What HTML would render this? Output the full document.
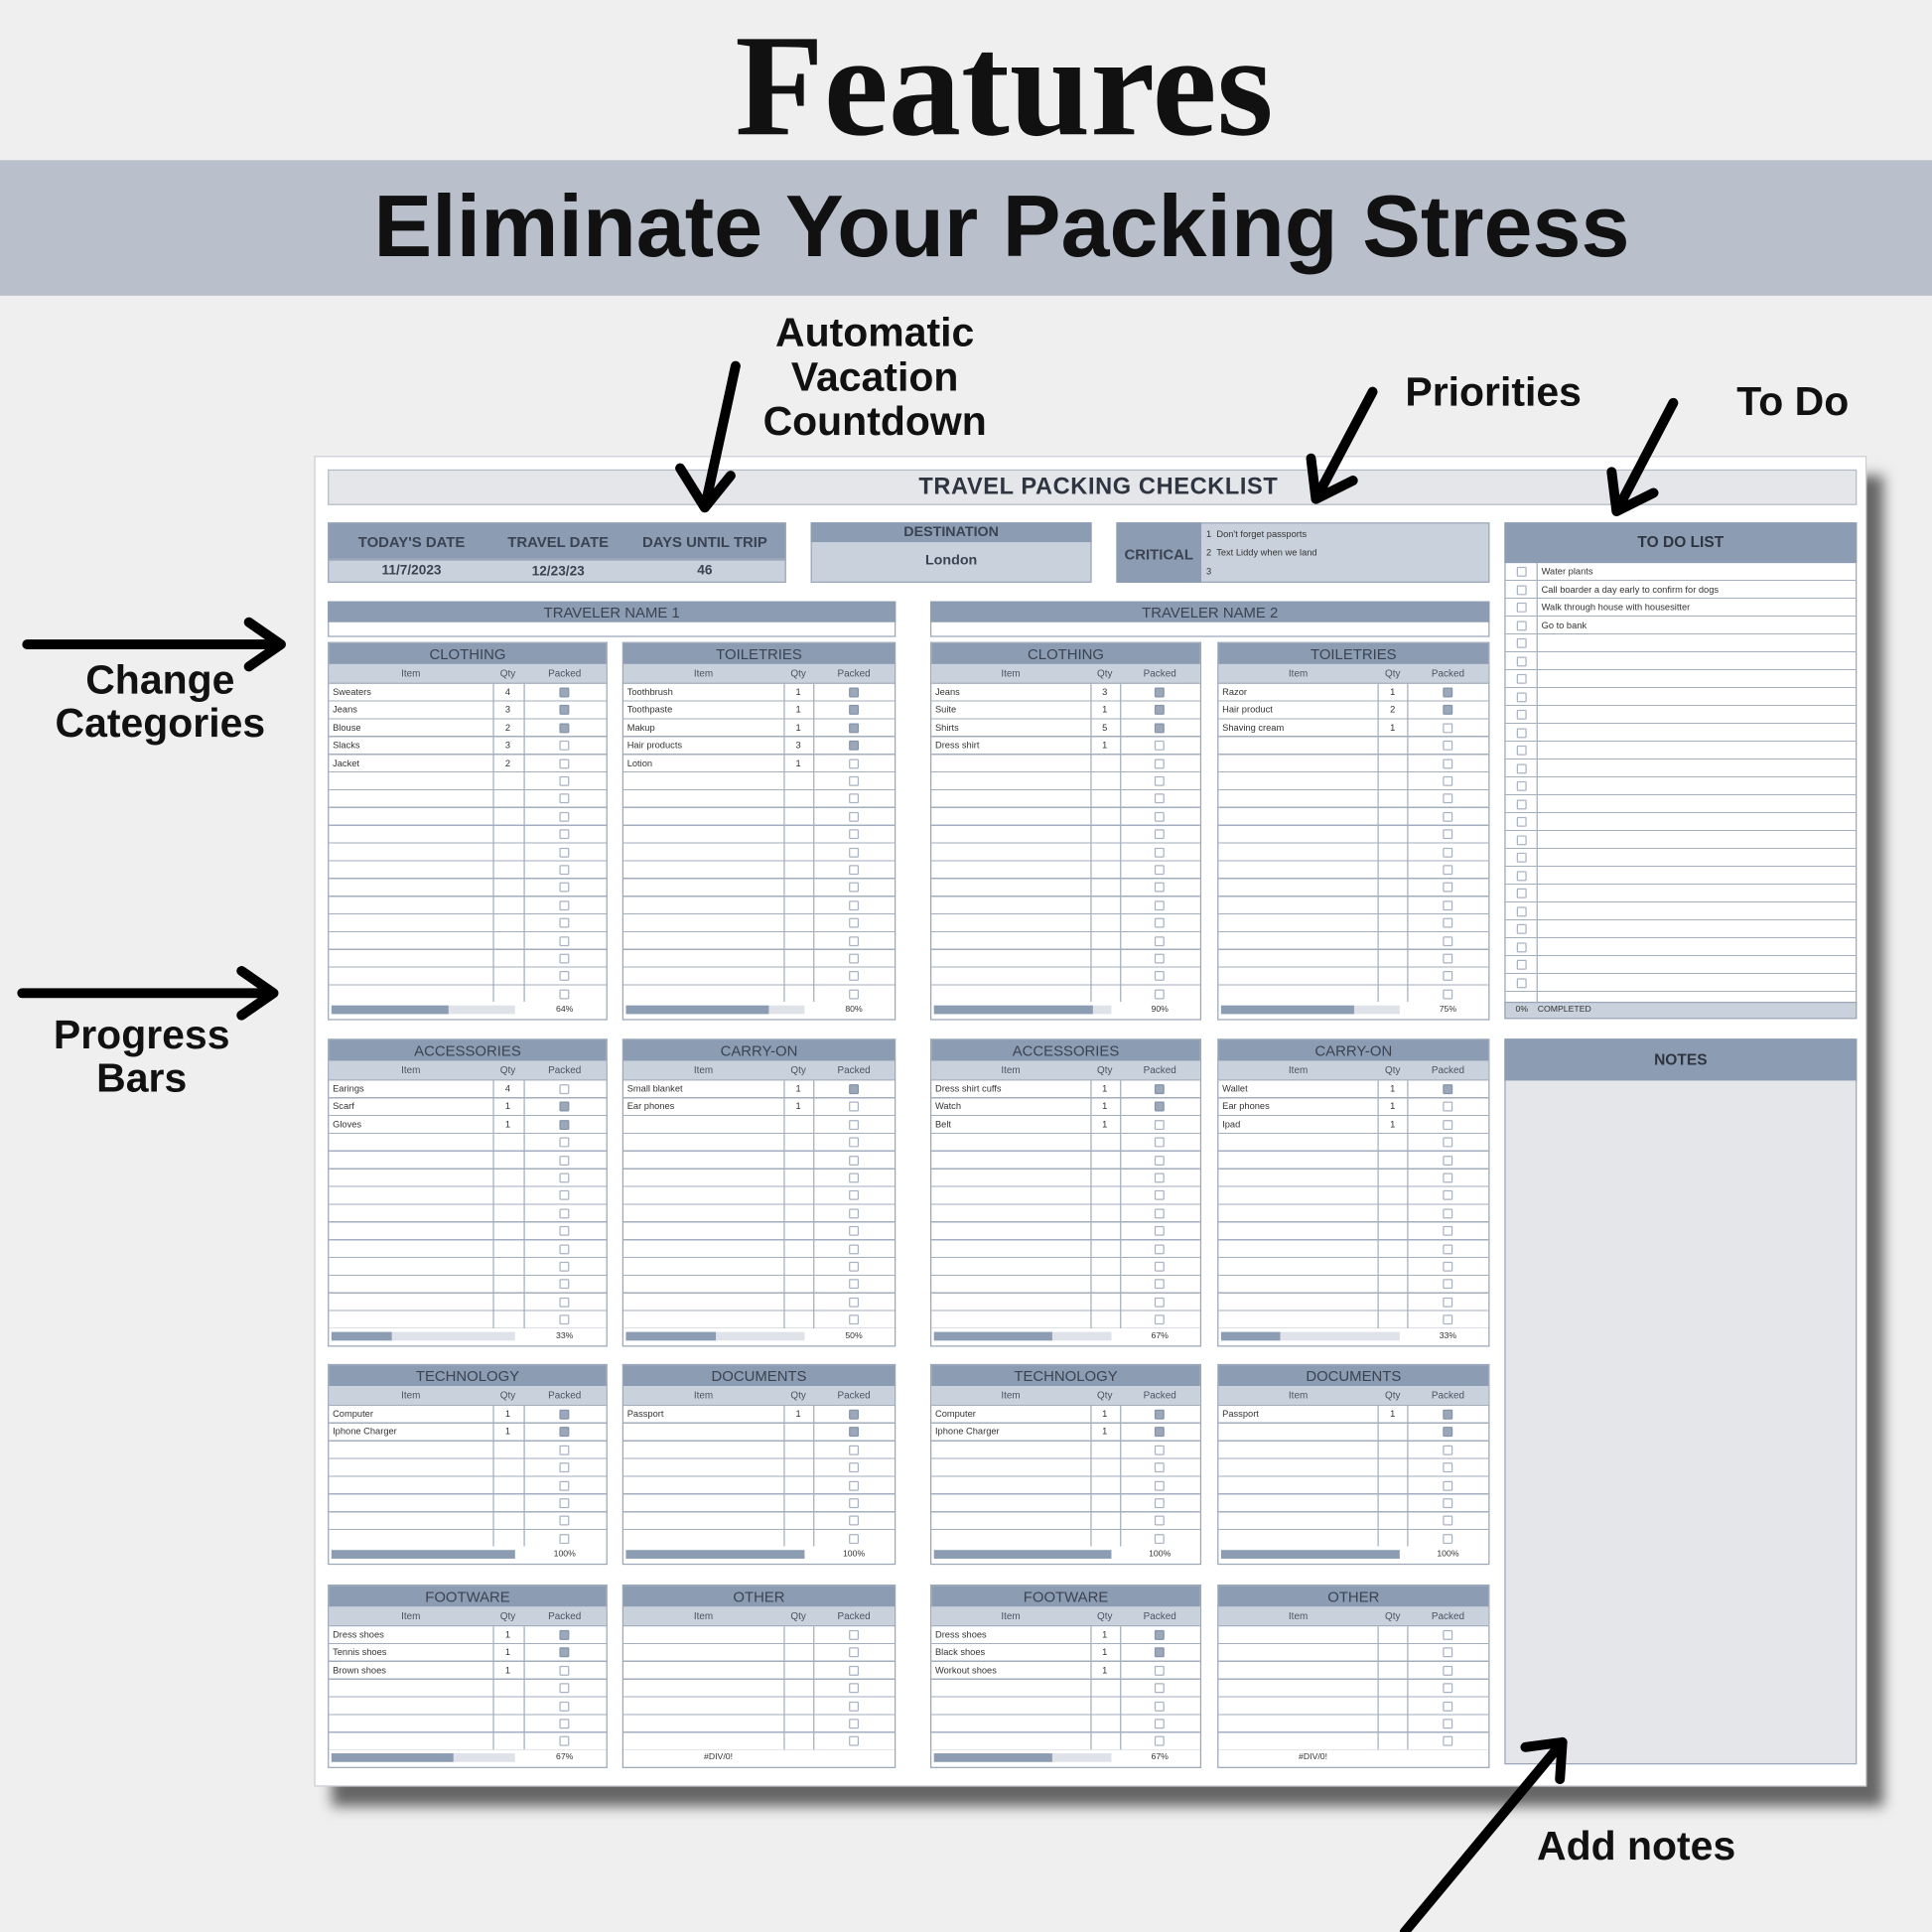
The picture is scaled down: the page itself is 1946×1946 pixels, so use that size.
<!DOCTYPE html>
<html><head><meta charset="utf-8">
<style>
*{margin:0;padding:0;box-sizing:border-box}
html,body{width:1946px;height:1946px;overflow:hidden;background:#efefef}
#w{position:absolute;left:0;top:0;width:1568px;height:1568px;transform:scale(1.24107);transform-origin:0 0;font-family:"Liberation Sans",sans-serif}
.a{position:absolute}
.ann{position:absolute;font-weight:bold;font-size:33px;color:#111;text-align:center;line-height:36px}
.sheet{position:absolute;left:255px;top:370px;width:1260px;height:1080px;background:#fff;border:1px solid #c9cdd3;box-shadow:14px 16px 10px #666}
.hdc{background:#8c9cb3}
.lt{background:#c9d2dc}
.blk{position:absolute;border:1px solid #9aa6b8;background:#fff}
.blk .hd{height:17px;background:#8c9cb3;color:#3b4352;font-size:12px;text-align:center;line-height:18px}
.blk .sub{height:15px;background:#c9d2dc;position:relative;font-size:8px;color:#4a5262;line-height:15px}
.sub span{position:absolute;text-align:center}
.c1{left:0;width:59%}.c2{left:59%;width:11%}.c3{left:70%;width:30%}
.bd{position:relative;background:repeating-linear-gradient(to bottom,transparent 0 13.4px,#a3aebe 13.4px 14.4px);border-top:1px solid #a3aebe}
.bd:before,.bd:after{content:"";position:absolute;top:0;bottom:0;width:1px;background:#a3aebe}
.bd:before{left:59%}.bd:after{left:70%}
.bd p{position:relative;height:14.4px;font-size:7.5px;line-height:13px;padding-left:3px;color:#333}
.bd p b{position:absolute;left:59%;width:11%;text-align:center;font-weight:normal}
.cb{position:absolute;width:8px;height:8px;border:1px solid #aab3c2;border-radius:1px;background:#fff}
.cb.k{background:#9ba8ba;border-color:#8594aa}
.pr{position:relative;height:14px;font-size:7px;color:#333}
.pr .bg{position:absolute;left:2px;top:3px;width:66%;height:7px;background:#dfe3e9}
.pr .fg{position:absolute;left:0;top:0;height:7px;background:#8c9cb3}
.pr .pc{position:absolute;left:70%;width:30%;text-align:center;line-height:14px}
.pr .dv{position:absolute;left:0;width:70%;text-align:center;line-height:14px}
.tl{position:absolute;font-size:12px;color:#3b4352;text-align:center;font-weight:bold}
</style></head><body>
<div id="w">
<div class="a" style="left:0;top:10px;width:1630px;text-align:center;font-family:'Liberation Serif',serif;font-weight:bold;font-size:118px;line-height:120px;color:#111">Features</div>
<div class="a" style="left:0;top:130px;width:1568px;height:110px;background:#b9c0cb"></div>
<div class="a" style="left:0;top:142px;width:1626px;text-align:center;font-weight:bold;font-size:71px;line-height:86px;color:#111">Eliminate Your Packing Stress</div>

<div class="ann" style="left:590px;top:252px;width:240px">Automatic<br>Vacation<br>Countdown</div>
<div class="ann" style="left:1122px;top:300px;width:180px">Priorities</div>
<div class="ann" style="left:1395px;top:308px;width:120px">To Do</div>
<div class="ann" style="left:20px;top:534px;width:220px;line-height:35px">Change<br>Categories</div>
<div class="ann" style="left:20px;top:822px;width:190px;line-height:35px">Progress<br>Bars</div>
<div class="ann" style="left:1228px;top:1480px;width:200px">Add notes</div>

<div class="sheet"></div>
<div class="a" style="left:266px;top:381px;width:1241px;height:29px;background:#e4e6ea;border:1px solid #b5bcc7;text-align:center;font-size:19px;font-weight:bold;line-height:28px;color:#2f3540;letter-spacing:.5px;padding-left:10px">TRAVEL PACKING CHECKLIST</div>

<div class="a hdc" style="left:266px;top:424px;width:372px;height:30px;border:1px solid #9aa6b8"></div>
<div class="a lt" style="left:266px;top:454px;width:372px;height:19px;border:1px solid #9aa6b8"></div>
<div class="tl" style="left:274px;top:433px;width:120px">TODAY'S DATE</div>
<div class="tl" style="left:394px;top:433px;width:118px">TRAVEL DATE</div>
<div class="tl" style="left:512px;top:433px;width:120px">DAYS UNTIL TRIP</div>
<div class="tl" style="left:274px;top:457px;width:120px;font-size:11px">11/7/2023</div>
<div class="tl" style="left:394px;top:458px;width:118px;font-size:11px">12/23/23</div>
<div class="tl" style="left:512px;top:457px;width:120px;font-size:11px">46</div>
<div class="a lt" style="left:658px;top:424px;width:228px;height:49px;border:1px solid #9aa6b8"></div>
<div class="a hdc" style="left:658px;top:424px;width:228px;height:16px"></div>
<div class="tl" style="left:658px;top:426px;width:228px;font-size:11.5px">DESTINATION</div>
<div class="tl" style="left:658px;top:449px;width:228px;font-size:11.5px">London</div>
<div class="a lt" style="left:906px;top:424px;width:303px;height:49px;border:1px solid #9aa6b8"></div>
<div class="a hdc" style="left:906px;top:424px;width:69px;height:49px"></div>
<div class="tl" style="left:906px;top:443px;width:69px;font-size:12px">CRITICAL</div>
<div class="a" style="left:979px;top:426px;font-size:7.5px;line-height:15px;color:#333">1&nbsp; Don't forget passports<br>2&nbsp; Text Liddy when we land<br>3</div>

<div class="a" style="left:266px;top:488px;width:461px;height:29px;border:1px solid #9aa6b8;background:#fff"></div>
<div class="a hdc" style="left:266px;top:488px;width:461px;height:17px;text-align:center;font-size:12px;line-height:18px;color:#3b4352">TRAVELER NAME 1</div>
<div class="a" style="left:755px;top:488px;width:454px;height:29px;border:1px solid #9aa6b8;background:#fff"></div>
<div class="a hdc" style="left:755px;top:488px;width:454px;height:17px;text-align:center;font-size:12px;line-height:18px;color:#3b4352">TRAVELER NAME 2</div>

<div class="blk" style="left:266px;top:521px;width:227px" data-rows="18" data-k="0,1,2"><div class="hd">CLOTHING</div><div class="sub"><span class="c1">Item</span><span class="c2">Qty</span><span class="c3">Packed</span></div><div class="bd"><p>Sweaters<b>4</b></p><p>Jeans<b>3</b></p><p>Blouse<b>2</b></p><p>Slacks<b>3</b></p><p>Jacket<b>2</b></p></div><div class="pr"><div class="bg"><div class="fg" style="width:64%"></div></div><div class="pc">64%</div></div></div>
<div class="blk" style="left:505px;top:521px;width:222px" data-rows="18" data-k="0,1,2,3"><div class="hd">TOILETRIES</div><div class="sub"><span class="c1">Item</span><span class="c2">Qty</span><span class="c3">Packed</span></div><div class="bd"><p>Toothbrush<b>1</b></p><p>Toothpaste<b>1</b></p><p>Makup<b>1</b></p><p>Hair products<b>3</b></p><p>Lotion<b>1</b></p></div><div class="pr"><div class="bg"><div class="fg" style="width:80%"></div></div><div class="pc">80%</div></div></div>
<div class="blk" style="left:755px;top:521px;width:220px" data-rows="18" data-k="0,1,2"><div class="hd">CLOTHING</div><div class="sub"><span class="c1">Item</span><span class="c2">Qty</span><span class="c3">Packed</span></div><div class="bd"><p>Jeans<b>3</b></p><p>Suite<b>1</b></p><p>Shirts<b>5</b></p><p>Dress shirt<b>1</b></p></div><div class="pr"><div class="bg"><div class="fg" style="width:90%"></div></div><div class="pc">90%</div></div></div>
<div class="blk" style="left:988px;top:521px;width:221px" data-rows="18" data-k="0,1"><div class="hd">TOILETRIES</div><div class="sub"><span class="c1">Item</span><span class="c2">Qty</span><span class="c3">Packed</span></div><div class="bd"><p>Razor<b>1</b></p><p>Hair product<b>2</b></p><p>Shaving cream<b>1</b></p></div><div class="pr"><div class="bg"><div class="fg" style="width:75%"></div></div><div class="pc">75%</div></div></div>

<div class="blk" style="left:266px;top:843px;width:227px" data-rows="14" data-k="1,2"><div class="hd">ACCESSORIES</div><div class="sub"><span class="c1">Item</span><span class="c2">Qty</span><span class="c3">Packed</span></div><div class="bd"><p>Earings<b>4</b></p><p>Scarf<b>1</b></p><p>Gloves<b>1</b></p></div><div class="pr"><div class="bg"><div class="fg" style="width:33%"></div></div><div class="pc">33%</div></div></div>
<div class="blk" style="left:505px;top:843px;width:222px" data-rows="14" data-k="0"><div class="hd">CARRY-ON</div><div class="sub"><span class="c1">Item</span><span class="c2">Qty</span><span class="c3">Packed</span></div><div class="bd"><p>Small blanket<b>1</b></p><p>Ear phones<b>1</b></p></div><div class="pr"><div class="bg"><div class="fg" style="width:50%"></div></div><div class="pc">50%</div></div></div>
<div class="blk" style="left:755px;top:843px;width:220px" data-rows="14" data-k="0,1"><div class="hd">ACCESSORIES</div><div class="sub"><span class="c1">Item</span><span class="c2">Qty</span><span class="c3">Packed</span></div><div class="bd"><p>Dress shirt cuffs<b>1</b></p><p>Watch<b>1</b></p><p>Belt<b>1</b></p></div><div class="pr"><div class="bg"><div class="fg" style="width:67%"></div></div><div class="pc">67%</div></div></div>
<div class="blk" style="left:988px;top:843px;width:221px" data-rows="14" data-k="0"><div class="hd">CARRY-ON</div><div class="sub"><span class="c1">Item</span><span class="c2">Qty</span><span class="c3">Packed</span></div><div class="bd"><p>Wallet<b>1</b></p><p>Ear phones<b>1</b></p><p>Ipad<b>1</b></p></div><div class="pr"><div class="bg"><div class="fg" style="width:33%"></div></div><div class="pc">33%</div></div></div>

<div class="blk" style="left:266px;top:1107px;width:227px" data-rows="8" data-k="0,1"><div class="hd">TECHNOLOGY</div><div class="sub"><span class="c1">Item</span><span class="c2">Qty</span><span class="c3">Packed</span></div><div class="bd"><p>Computer<b>1</b></p><p>Iphone Charger<b>1</b></p></div><div class="pr"><div class="bg"><div class="fg" style="width:100%"></div></div><div class="pc">100%</div></div></div>
<div class="blk" style="left:505px;top:1107px;width:222px" data-rows="8" data-k="0,1"><div class="hd">DOCUMENTS</div><div class="sub"><span class="c1">Item</span><span class="c2">Qty</span><span class="c3">Packed</span></div><div class="bd"><p>Passport<b>1</b></p></div><div class="pr"><div class="bg"><div class="fg" style="width:100%"></div></div><div class="pc">100%</div></div></div>
<div class="blk" style="left:755px;top:1107px;width:220px" data-rows="8" data-k="0,1"><div class="hd">TECHNOLOGY</div><div class="sub"><span class="c1">Item</span><span class="c2">Qty</span><span class="c3">Packed</span></div><div class="bd"><p>Computer<b>1</b></p><p>Iphone Charger<b>1</b></p></div><div class="pr"><div class="bg"><div class="fg" style="width:100%"></div></div><div class="pc">100%</div></div></div>
<div class="blk" style="left:988px;top:1107px;width:221px" data-rows="8" data-k="0,1"><div class="hd">DOCUMENTS</div><div class="sub"><span class="c1">Item</span><span class="c2">Qty</span><span class="c3">Packed</span></div><div class="bd"><p>Passport<b>1</b></p></div><div class="pr"><div class="bg"><div class="fg" style="width:100%"></div></div><div class="pc">100%</div></div></div>

<div class="blk" style="left:266px;top:1286px;width:227px" data-rows="7" data-k="0,1"><div class="hd">FOOTWARE</div><div class="sub"><span class="c1">Item</span><span class="c2">Qty</span><span class="c3">Packed</span></div><div class="bd"><p>Dress shoes<b>1</b></p><p>Tennis shoes<b>1</b></p><p>Brown shoes<b>1</b></p></div><div class="pr"><div class="bg"><div class="fg" style="width:67%"></div></div><div class="pc">67%</div></div></div>
<div class="blk" style="left:505px;top:1286px;width:222px" data-rows="7" data-k=""><div class="hd">OTHER</div><div class="sub"><span class="c1">Item</span><span class="c2">Qty</span><span class="c3">Packed</span></div><div class="bd"></div><div class="pr"><div class="dv">#DIV/0!</div></div></div>
<div class="blk" style="left:755px;top:1286px;width:220px" data-rows="7" data-k="0,1"><div class="hd">FOOTWARE</div><div class="sub"><span class="c1">Item</span><span class="c2">Qty</span><span class="c3">Packed</span></div><div class="bd"><p>Dress shoes<b>1</b></p><p>Black shoes<b>1</b></p><p>Workout shoes<b>1</b></p></div><div class="pr"><div class="bg"><div class="fg" style="width:67%"></div></div><div class="pc">67%</div></div></div>
<div class="blk" style="left:988px;top:1286px;width:221px" data-rows="7" data-k=""><div class="hd">OTHER</div><div class="sub"><span class="c1">Item</span><span class="c2">Qty</span><span class="c3">Packed</span></div><div class="bd"></div><div class="pr"><div class="dv">#DIV/0!</div></div></div>

<div class="a" style="left:1221px;top:424px;width:286px;height:403px;border:1px solid #9aa6b8;background:#fff"></div>
<div class="a hdc" style="left:1221px;top:424px;width:286px;height:33px;text-align:center;font-size:12.5px;font-weight:bold;line-height:33px;color:#2f3540">TO DO LIST</div>
<div id="todo" class="a" style="left:1221px;top:457px;width:286px;height:356px;background:repeating-linear-gradient(to bottom,transparent 0 13.5px,#a3aebe 13.5px 14.5px)">
<div class="a" style="left:26px;top:0;width:1px;height:356px;background:#a3aebe"></div>
<div class="a" style="left:30px;top:0;font-size:7.5px;line-height:14.5px;color:#333">Water plants<br>Call boarder a day early to confirm for dogs<br>Walk through house with housesitter<br>Go to bank</div>
</div>
<div class="a lt" style="left:1221px;top:813px;width:286px;height:14px;border:1px solid #9aa6b8;font-size:7px;line-height:12px;color:#333;padding-left:8px">0%&nbsp;&nbsp;&nbsp;&nbsp;COMPLETED</div>

<div class="a" style="left:1221px;top:843px;width:286px;height:589px;border:1px solid #9aa6b8;background:#e4e6ea"></div>
<div class="a hdc" style="left:1221px;top:843px;width:286px;height:34px;text-align:center;font-size:12.5px;font-weight:bold;line-height:34px;color:#2f3540">NOTES</div>

<svg class="a" style="left:0;top:0;z-index:5" width="1568" height="1568">
<g stroke="#000" stroke-width="8" fill="none" stroke-linecap="round" stroke-linejoin="round">
<path d="M597 297 L572 412 M552 380 L572 412 L593 386"/>
<path d="M1114 318 L1068 405 M1064 372 L1068 405 L1098 390"/>
<path d="M1358 327 L1312 415 M1308 383 L1312 415 L1342 400"/>
<path d="M22 523 L228 523 M202 505 L228 523 L202 541"/>
<path d="M18 806 L222 806 M196 788 L222 806 L196 824"/>
<path d="M1140 1568 L1268 1414 M1238 1418 L1268 1414 L1266 1444"/>
</g></svg>
</div>
<script>
document.querySelectorAll('.blk').forEach(function(b){
  var n=+b.dataset.rows, bd=b.querySelector('.bd');
  bd.style.height=(n*14.4)+'px';
  var k=(b.dataset.k||'').split(',').filter(function(x){return x!==''}).map(Number);
  var W=b.clientWidth, cx=W*0.85;
  for(var i=0;i<n;i++){
    var c=document.createElement('div');c.className='cb'+(k.indexOf(i)>=0?' k':'');
    c.style.left=(cx-4)+'px';c.style.top=(i*14.4+3)+'px';bd.appendChild(c);
  }
});
var t=document.getElementById('todo');
for(var i=0;i<24;i++){var c=document.createElement('div');c.className='cb';c.style.left='10px';c.style.top=(i*14.5+3)+'px';t.appendChild(c);}
</script>
</body></html>
